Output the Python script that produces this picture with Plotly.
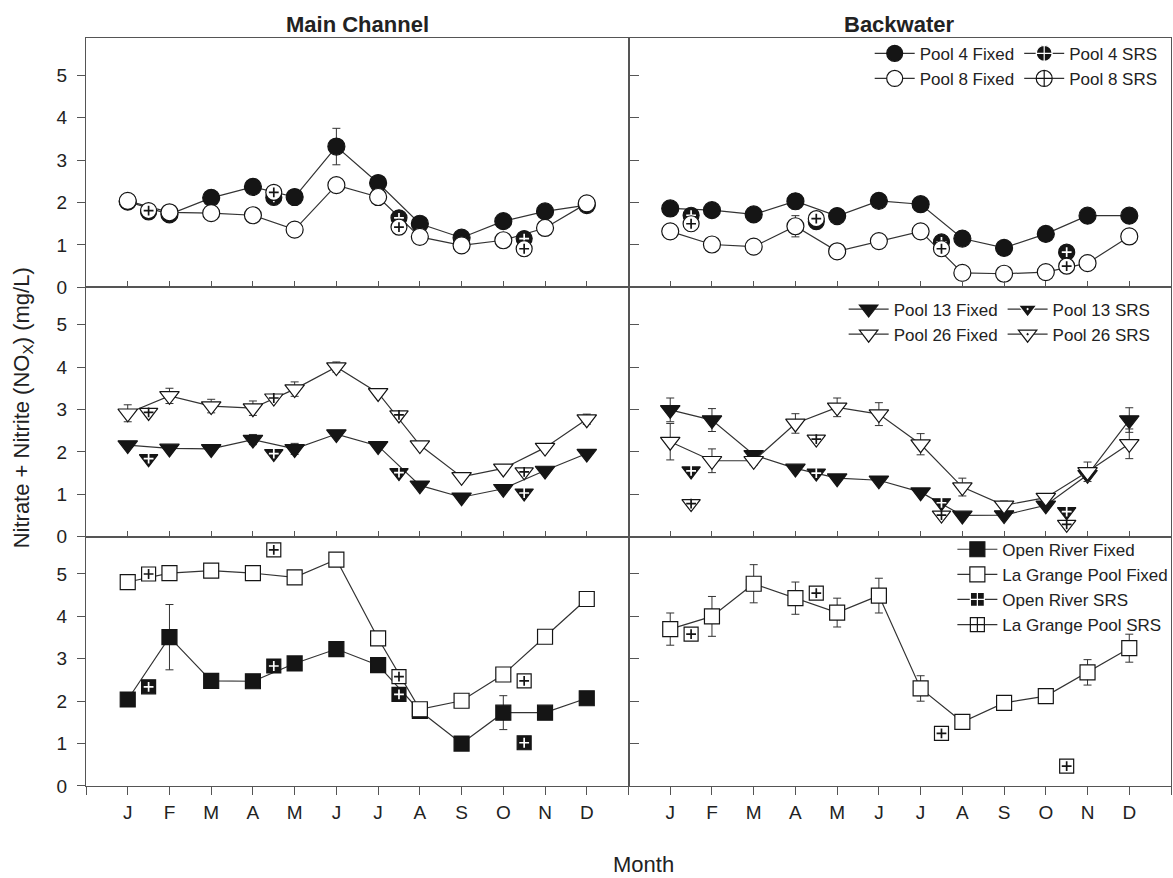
import plotly.graph_objects as go
from plotly.subplots import make_subplots

# ---------------- data ----------------
months = [1, 2, 3, 4, 5, 6, 7, 8, 9, 10, 11, 12]
month_labels = ["J", "F", "M", "A", "M", "J", "J", "A", "S", "O", "N", "D"]
srs_x = [1.5, 4.5, 7.5, 10.5]
edge_ticks = [0, 13]

# Row 1: Pool 4 / Pool 8
pool4_mc = [2.02, 1.72, 2.11, 2.37, 2.13, 3.32, 2.46, 1.50, 1.17, 1.56, 1.79, 1.94]
pool4_mc_err = [0, 0, 0, 0, 0, 0.43, 0, 0, 0, 0, 0, 0]
pool8_mc = [2.04, 1.77, 1.75, 1.70, 1.36, 2.41, 2.13, 1.19, 0.99, 1.11, 1.40, 1.98]
pool8_mc_err = [0, 0, 0, 0, 0, 0, 0, 0, 0, 0, 0, 0]
pool4_mc_srs = [1.78, 2.12, 1.64, 1.15]
pool8_mc_srs = [1.81, 2.24, 1.42, 0.91]

pool4_bw = [1.86, 1.82, 1.72, 2.03, 1.68, 2.04, 1.96, 1.15, 0.93, 1.26, 1.69, 1.69]
pool4_bw_err = [0, 0, 0, 0.18, 0, 0, 0, 0, 0, 0, 0, 0]
pool8_bw = [1.32, 1.01, 0.96, 1.44, 0.85, 1.09, 1.32, 0.34, 0.32, 0.36, 0.57, 1.20]
pool8_bw_err = [0, 0, 0, 0.25, 0, 0, 0, 0, 0, 0, 0, 0]
pool4_bw_srs = [1.70, 1.55, 1.07, 0.83]
pool8_bw_srs = [1.50, 1.62, 0.91, 0.50]

# Row 2: Pool 13 / Pool 26
pool13_mc = [2.16, 2.08, 2.07, 2.29, 2.07, 2.42, 2.14, 1.21, 0.93, 1.13, 1.56, 1.96]
pool13_mc_err = [0.05, 0, 0, 0.12, 0.13, 0, 0, 0, 0, 0, 0, 0]
pool26_mc = [2.91, 3.32, 3.08, 3.03, 3.48, 4.00, 3.39, 2.16, 1.41, 1.61, 2.10, 2.77]
pool26_mc_err = [0.20, 0.18, 0.16, 0.17, 0.17, 0.12, 0, 0, 0, 0, 0, 0.12]
pool13_mc_srs = [1.84, 1.96, 1.51, 1.03]
pool26_mc_srs = [2.93, 3.27, 2.87, 1.53]

pool13_bw = [2.99, 2.75, 1.93, 1.61, 1.38, 1.33, 1.05, 0.50, 0.51, 0.74, 1.46, 2.75]
pool13_bw_err = [0.28, 0.27, 0.10, 0, 0, 0, 0, 0, 0, 0, 0, 0.29]
pool26_bw = [2.24, 1.79, 1.79, 2.67, 3.05, 2.89, 2.18, 1.17, 0.74, 0.92, 1.53, 2.19]
pool26_bw_err = [0.43, 0.28, 0.10, 0.23, 0.22, 0.27, 0.25, 0.21, 0.10, 0.08, 0.23, 0.35]
pool13_bw_srs = [1.55, 1.50, 0.80, 0.59]
pool26_bw_srs = [0.78, 2.30, 0.51, 0.29]

# Row 3: Open River / La Grange Pool
openriver_mc = [2.04, 3.51, 2.48, 2.47, 2.89, 3.23, 2.85, 1.77, 1.00, 1.73, 1.73, 2.07]
openriver_mc_err = [0, 0.77, 0, 0, 0, 0, 0, 0, 0, 0.40, 0, 0]
lagrange_mc = [4.81, 5.02, 5.08, 5.02, 4.92, 5.34, 3.48, 1.81, 2.01, 2.63, 3.52, 4.41]
lagrange_mc_err = [0, 0, 0, 0, 0, 0, 0, 0, 0, 0, 0, 0]
openriver_mc_srs = [2.34, 2.83, 2.16, 1.02]
lagrange_mc_srs = [5.00, 5.57, 2.58, 2.48]

lagrange_bw = [3.70, 4.00, 4.77, 4.43, 4.09, 4.49, 2.30, 1.51, 1.96, 2.12, 2.68, 3.25]
lagrange_bw_err = [0.38, 0.47, 0.45, 0.38, 0.34, 0.41, 0.30, 0, 0, 0.05, 0.30, 0.33]
lagrange_bw_srs = [3.58, 4.55, 1.24, 0.47]

y_tick_vals = [0, 1, 2, 3, 4, 5]

# ---------------- styling ----------------
FONT = "Liberation Sans, Arial, sans-serif"
INK = "#151515"
LINE = "#333333"
AXIS = "#555555"

fig = make_subplots(rows=3, cols=2, horizontal_spacing=0, vertical_spacing=0)

SIZES = {"circle": 17, "triangle-down": 17, "square": 15}
SRS_SIZES = {"circle": 16, "triangle-down": 16, "square": 14}
LEG_SYM = {"circle": "circle-cross", "square": "square-cross", "triangle-down": "triangle-down-dot"}


def add_fixed(row, col, y, err, symbol, filled, name, legend, group, showlegend):
    fig.add_trace(go.Scatter(
        x=months, y=y, mode="lines+markers", name=name,
        legend=legend, legendgroup=group, showlegend=showlegend,
        line=dict(color=LINE, width=1.2),
        marker=dict(symbol=symbol, size=SIZES[symbol],
                    color=INK if filled else "white",
                    line=dict(color=INK, width=1.2)),
        error_y=dict(type="data", array=err, visible=True,
                     color=LINE, thickness=1, width=4),
        hoverinfo="x+y+name",
    ), row=row, col=col)


def add_srs(row, col, y, symbol, filled):
    fig.add_trace(go.Scatter(
        x=srs_x, y=y, mode="markers", showlegend=False,
        marker=dict(symbol=symbol, size=SRS_SIZES[symbol],
                    color=INK if filled else "white",
                    line=dict(color=INK, width=1.2)),
        hoverinfo="x+y",
    ), row=row, col=col)
    cross_col = "white" if filled else INK
    fig.add_trace(go.Scatter(
        x=srs_x, y=y, mode="markers", showlegend=False,
        marker=dict(symbol="cross-thin-open", size=7, color=cross_col,
                    line=dict(color=cross_col, width=1.7)),
        hoverinfo="skip",
    ), row=row, col=col)


def add_legend_proxy(symbol, filled, name, legend, group):
    fig.add_trace(go.Scatter(
        x=[None], y=[None], mode="lines+markers", name=name,
        legend=legend, legendgroup=group, showlegend=True,
        line=dict(color=LINE, width=1.2),
        marker=dict(symbol=LEG_SYM[symbol], size=SRS_SIZES[symbol],
                    color=INK if filled else "white",
                    line=dict(color="white" if filled else INK, width=1.2)),
        hoverinfo="skip",
    ), row=1, col=2)


# Row 1
add_fixed(1, 1, pool4_mc, pool4_mc_err, "circle", True, "Pool 4 Fixed", "legend", "r1f", True)
add_fixed(1, 1, pool8_mc, pool8_mc_err, "circle", False, "Pool 8 Fixed", "legend", "r1f", True)
add_legend_proxy("circle", True, "Pool 4 SRS", "legend", "r1s")
add_legend_proxy("circle", False, "Pool 8 SRS", "legend", "r1s")
add_srs(1, 1, pool4_mc_srs, "circle", True)
add_srs(1, 1, pool8_mc_srs, "circle", False)
add_fixed(1, 2, pool4_bw, pool4_bw_err, "circle", True, "Pool 4 Fixed", "legend", "r1f", False)
add_fixed(1, 2, pool8_bw, pool8_bw_err, "circle", False, "Pool 8 Fixed", "legend", "r1f", False)
add_srs(1, 2, pool4_bw_srs, "circle", True)
add_srs(1, 2, pool8_bw_srs, "circle", False)

# Row 2
add_fixed(2, 1, pool13_mc, pool13_mc_err, "triangle-down", True, "Pool 13 Fixed", "legend2", "r2f", True)
add_fixed(2, 1, pool26_mc, pool26_mc_err, "triangle-down", False, "Pool 26 Fixed", "legend2", "r2f", True)
add_legend_proxy("triangle-down", True, "Pool 13 SRS", "legend2", "r2s")
add_legend_proxy("triangle-down", False, "Pool 26 SRS", "legend2", "r2s")
add_srs(2, 1, pool13_mc_srs, "triangle-down", True)
add_srs(2, 1, pool26_mc_srs, "triangle-down", False)
add_fixed(2, 2, pool13_bw, pool13_bw_err, "triangle-down", True, "Pool 13 Fixed", "legend2", "r2f", False)
add_fixed(2, 2, pool26_bw, pool26_bw_err, "triangle-down", False, "Pool 26 Fixed", "legend2", "r2f", False)
add_srs(2, 2, pool13_bw_srs, "triangle-down", True)
add_srs(2, 2, pool26_bw_srs, "triangle-down", False)

# Row 3
add_fixed(3, 1, openriver_mc, openriver_mc_err, "square", True, "Open River Fixed", "legend3", "r3", True)
add_fixed(3, 1, lagrange_mc, lagrange_mc_err, "square", False, "La Grange Pool Fixed", "legend3", "r3", True)
add_legend_proxy("square", True, "Open River SRS", "legend3", "r3")
add_legend_proxy("square", False, "La Grange Pool SRS", "legend3", "r3")
add_srs(3, 1, openriver_mc_srs, "square", True)
add_srs(3, 1, lagrange_mc_srs, "square", False)
add_fixed(3, 2, lagrange_bw, lagrange_bw_err, "square", False, "La Grange Pool Fixed", "legend3", "r3", False)
add_srs(3, 2, lagrange_bw_srs, "square", False)

# ---------------- axes ----------------
tickfont = dict(family=FONT, size=19, color="#222")
for r in (1, 2, 3):
    for c in (1, 2):
        xa = dict(range=[0, 13], showline=True, mirror=True, linecolor=AXIS, linewidth=1.3,
                  showgrid=False, zeroline=False, tickcolor=AXIS, tickwidth=1)
        if r < 3:
            xa.update(ticks="inside", tickvals=months, ticklen=6, showticklabels=False)
        else:
            xa.update(ticks="outside", tickvals=months, ticktext=month_labels, ticklen=8,
                      tickfont=tickfont, ticklabelstandoff=1,
                      minor=dict(tickmode="array", tickvals=edge_ticks, ticks="outside",
                                 ticklen=8, tickcolor=AXIS, tickwidth=1, showgrid=False))
        fig.update_xaxes(row=r, col=c, **xa)
        ya = dict(range=[0, 5.88], showline=True, mirror=True, linecolor=AXIS, linewidth=1.3,
                  showgrid=False, zeroline=False, tickvals=y_tick_vals, tickcolor=AXIS, tickwidth=1)
        if c == 1:
            ya.update(ticks="outside", ticklen=8, tickfont=tickfont, ticklabelstandoff=6)
        else:
            ya.update(ticks="inside", ticklen=10, showticklabels=False)
        fig.update_yaxes(row=r, col=c, **ya)

legfont = dict(family=FONT, size=17, color="#222")
fig.update_layout(
    width=1173, height=878,
    margin=dict(l=86, r=2, t=38, b=92, autoexpand=False),
    paper_bgcolor="white", plot_bgcolor="white",
    font=dict(family=FONT, color="#222"),
    showlegend=True,
    legend=dict(x=0.7223, y=1.003, xanchor="left", yanchor="top", orientation="h",
                traceorder="grouped", font=legfont, bgcolor="rgba(0,0,0,0)",
                tracegroupgap=0, itemwidth=40, itemclick=False, itemdoubleclick=False),
    legend2=dict(x=0.6983, y=0.661, xanchor="left", yanchor="top", orientation="h",
                 traceorder="grouped", font=legfont, bgcolor="rgba(0,0,0,0)",
                 tracegroupgap=0, itemwidth=40, itemclick=False, itemdoubleclick=False),
    legend3=dict(x=0.7985, y=0.340, xanchor="left", yanchor="top", orientation="v",
                 font=legfont, bgcolor="rgba(0,0,0,0)", tracegroupgap=0, itemwidth=40,
                 itemclick=False, itemdoubleclick=False),
    annotations=[
        dict(text="<b>Main Channel</b>", x=0.25, y=1.0174, xref="paper", yref="paper",
             showarrow=False, xanchor="center", yanchor="middle",
             font=dict(family=FONT, size=22, color="#222")),
        dict(text="<b>Backwater</b>", x=0.75, y=1.0174, xref="paper", yref="paper",
             showarrow=False, xanchor="center", yanchor="middle",
             font=dict(family=FONT, size=22, color="#222")),
        dict(text="Nitrate + Nitrite (NO<sub>X</sub>) (mg/L)", x=-0.058, y=0.505,
             xref="paper", yref="paper", showarrow=False, textangle=-90,
             xanchor="center", yanchor="middle",
             font=dict(family=FONT, size=22, color="#222")),
        dict(text="Month", x=0.514, y=-0.1055, xref="paper", yref="paper",
             showarrow=False, xanchor="center", yanchor="middle",
             font=dict(family=FONT, size=22, color="#222")),
    ],
)

fig.write_html("out.html")
